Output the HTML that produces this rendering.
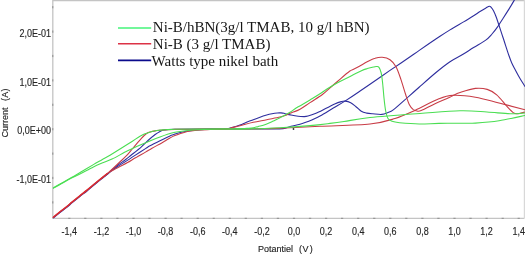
<!DOCTYPE html>
<html><head><meta charset="utf-8"><style>
html,body{margin:0;padding:0;background:#fff;}
body{width:525px;height:254px;overflow:hidden;}
svg{display:block;}
</style></head><body>
<svg width="525" height="254" viewBox="0 0 525 254">
<rect width="525" height="254" fill="#fff"/>
<path d="M524.3,0.5H52.8V218.3H524.3" fill="none" stroke="#c4c4c4" stroke-width="1.3"/>
<path d="M524.4,0V218.5" fill="none" stroke="#d8d8d8" stroke-width="1.2"/>
<path d="M68.2,218.3H70.4 M84.2,218.3H86.4 M100.3,218.3H102.5 M116.3,218.3H118.5 M132.4,218.3H134.6 M148.4,218.3H150.6 M164.5,218.3H166.7 M180.5,218.3H182.7 M196.6,218.3H198.8 M212.7,218.3H214.8 M228.7,218.3H230.9 M244.7,218.3H246.9 M260.8,218.3H263.0 M276.8,218.3H279.1 M292.9,218.3H295.1 M308.9,218.3H311.2 M325.0,218.3H327.2 M341.0,218.3H343.2 M357.1,218.3H359.3 M373.1,218.3H375.4 M389.2,218.3H391.4 M405.2,218.3H407.4 M421.3,218.3H423.5 M437.3,218.3H439.6 M453.4,218.3H455.6 M469.4,218.3H471.7 M485.5,218.3H487.7 M501.6,218.3H503.8 M517.6,218.3H519.8 M52.8,201.3V203.5 M52.8,176.9V179.1 M52.8,152.5V154.7 M52.8,128.1V130.3 M52.8,103.7V105.9 M52.8,79.3V81.5 M52.8,54.9V57.1 M52.8,30.5V32.7 M52.8,6.1V8.3" stroke="#8c8c8c" stroke-width="1" fill="none"/>
<path d="M107.3,174.3C108.2,173.5 111.0,171.1 113.0,169.6C115.0,168.1 116.8,167.0 119.0,165.6C121.2,164.2 123.5,162.8 126.2,161.1C128.9,159.4 131.8,157.5 135.0,155.4C138.2,153.3 143.0,150.2 145.5,148.6C148.0,147.0 147.6,147.1 150.0,145.8C152.4,144.5 156.7,142.4 160.0,140.8C163.3,139.2 167.5,137.1 170.0,136.0C172.5,134.9 172.5,134.8 175.0,134.0C177.5,133.2 180.8,132.2 185.0,131.5C189.2,130.8 195.0,130.0 200.0,129.6C205.0,129.2 210.8,129.2 215.0,129.1C219.2,129.0 222.5,129.2 225.3,128.9C228.1,128.6 229.6,128.2 232.0,127.5C234.4,126.8 237.7,125.8 240.0,125.0C242.3,124.2 243.8,123.4 246.0,122.5C248.2,121.6 251.0,120.6 253.3,119.7C255.6,118.8 257.8,118.0 260.0,117.2C262.2,116.4 264.7,115.6 266.7,115.0C268.7,114.4 270.2,114.1 272.0,113.8C273.8,113.5 275.8,113.2 277.3,113.0C278.8,112.8 279.9,112.9 281.0,112.9C282.1,113.0 283.1,113.1 284.0,113.3C284.9,113.5 285.5,113.8 286.7,114.1C287.9,114.4 289.1,114.6 291.0,115.0C292.9,115.4 296.0,116.0 298.2,116.3C300.4,116.6 302.4,116.6 304.0,116.6C305.6,116.5 306.0,116.5 308.0,116.0C310.0,115.5 312.9,114.6 316.0,113.3C319.1,112.0 323.6,109.5 326.7,108.0C329.8,106.5 332.3,105.1 334.7,104.0C337.1,102.9 339.5,102.1 341.3,101.6C343.1,101.1 343.7,100.9 345.3,101.1C346.9,101.3 348.9,101.8 350.7,102.7C352.5,103.6 354.2,105.3 356.0,106.7C357.8,108.1 359.5,110.2 361.3,111.3C363.1,112.4 364.8,112.7 366.7,113.1C368.6,113.5 370.2,113.6 372.7,113.8C375.2,114.0 379.2,114.6 381.8,114.4C384.4,114.2 386.0,113.3 388.0,112.5C390.0,111.7 390.0,112.4 393.6,109.6C397.2,106.8 404.8,99.8 409.4,95.8C414.0,91.8 416.8,89.3 421.2,85.4C425.6,81.5 431.2,76.5 436.0,72.5C440.8,68.5 445.5,64.7 450.0,61.7C454.5,58.7 459.1,56.7 463.0,54.3C466.9,51.9 469.9,49.8 473.6,47.5C477.3,45.2 482.3,42.6 485.4,40.4C488.5,38.1 490.0,36.2 492.0,34.0C494.0,31.8 495.4,30.0 497.2,27.4C499.0,24.8 500.9,21.8 503.0,18.5C505.1,15.2 508.1,10.5 510.0,7.4C511.9,4.3 513.4,1.7 514.4,0.0C515.4,-1.7 515.7,-2.5 516.0,-3.0" fill="none" stroke="#2e2e9e" stroke-width="1.1" stroke-linejoin="round" stroke-linecap="round"/>
<path d="M53.6,217.8C54.5,217.0 57.3,214.7 59.3,213.1C61.3,211.5 63.6,209.8 65.8,208.1C68.0,206.4 70.0,204.6 72.3,202.7C74.6,200.8 77.3,198.6 79.8,196.6C82.3,194.6 84.7,192.8 87.3,190.7C89.9,188.6 93.0,185.9 95.3,184.0C97.6,182.1 99.3,180.7 101.3,179.1C103.3,177.5 105.3,176.0 107.3,174.3C109.2,172.6 111.0,170.7 113.0,169.0C115.0,167.3 116.8,165.9 119.0,164.3C121.2,162.7 124.0,160.8 126.0,159.3C128.0,157.8 128.4,157.4 131.0,155.3C133.6,153.2 138.6,149.3 141.4,146.8C144.2,144.3 145.7,142.6 148.0,140.5C150.3,138.4 153.2,136.0 155.2,134.5C157.2,133.0 158.5,132.2 160.0,131.4C161.5,130.7 161.5,130.3 164.0,130.0C166.5,129.7 169.0,129.5 175.0,129.3C181.0,129.2 189.2,129.2 200.0,129.1C210.8,129.0 228.3,129.0 240.0,129.0C251.7,129.0 262.8,129.1 270.0,129.0C277.2,128.9 279.5,129.0 283.0,128.6C286.5,128.2 288.2,127.0 291.0,126.3C293.8,125.6 297.2,125.0 300.0,124.2C302.8,123.4 304.7,123.0 308.0,121.6C311.3,120.2 315.8,118.3 320.0,116.0C324.2,113.7 329.1,110.5 333.3,108.0C337.5,105.5 341.1,103.6 345.3,100.9C349.5,98.2 354.6,94.8 358.7,92.0C362.8,89.2 364.8,87.9 370.0,84.3C375.2,80.7 384.1,74.5 390.0,70.4C395.9,66.4 400.4,63.4 405.4,60.0C410.4,56.6 414.2,53.9 420.0,49.9C425.8,45.9 435.0,39.6 440.0,36.3C445.0,33.0 446.1,32.3 450.0,29.9C453.9,27.5 459.7,24.2 463.6,21.9C467.5,19.5 470.9,17.5 473.6,15.8C476.3,14.1 477.9,12.8 480.0,11.5C482.1,10.2 484.4,8.8 486.0,7.9C487.6,7.0 488.6,6.3 489.4,6.2C490.2,6.1 490.3,6.4 491.0,7.2C491.7,8.0 492.7,9.2 493.5,10.8C494.3,12.4 495.2,14.4 496.0,16.5C496.8,18.6 497.2,20.0 498.4,23.5C499.6,27.0 501.2,32.1 503.0,37.5C504.8,42.9 507.5,51.5 509.0,55.8C510.5,60.1 510.9,61.0 512.0,63.5C513.1,66.0 514.3,68.0 515.6,70.5C516.9,73.0 518.4,75.8 520.0,78.5C521.6,81.2 524.2,85.2 525.0,86.5" fill="none" stroke="#2e2e9e" stroke-width="1.1" stroke-linejoin="round" stroke-linecap="round"/>
<path d="M107.0,173.8C108.0,173.2 111.0,171.3 113.0,170.2C115.0,169.1 116.6,168.3 119.0,167.0C121.4,165.7 124.8,164.2 127.6,162.6C130.4,161.0 133.0,159.3 136.0,157.6C139.0,155.8 142.8,153.7 145.5,152.1C148.2,150.5 149.6,149.6 152.0,148.2C154.4,146.8 157.8,145.1 160.0,143.9C162.2,142.7 163.3,142.0 165.0,141.0C166.7,140.0 168.3,138.9 170.0,138.0C171.7,137.1 171.7,136.8 175.0,135.6C178.3,134.4 184.2,132.0 190.0,131.0C195.8,130.0 203.3,129.8 210.0,129.5C216.7,129.2 221.7,129.2 230.0,129.1C238.3,129.0 251.7,129.0 260.0,128.8C268.3,128.7 270.0,128.6 280.0,128.2C290.0,127.8 305.0,127.0 320.0,126.3C335.0,125.6 357.5,125.3 370.0,124.0C382.5,122.7 387.4,120.8 395.0,118.5C402.6,116.2 408.0,113.5 415.3,110.2C422.6,106.9 432.6,101.3 438.9,98.8C445.2,96.3 446.9,95.6 453.0,95.3C459.1,95.0 467.7,95.9 475.4,97.2C483.1,98.5 490.7,100.9 499.0,103.0C507.3,105.1 520.7,108.6 525.0,109.7" fill="none" stroke="#c83c46" stroke-width="1.1" stroke-linejoin="round" stroke-linecap="round"/>
<path d="M53.3,217.3C54.2,216.5 57.0,214.2 59.0,212.6C61.0,211.0 63.3,209.3 65.5,207.6C67.7,205.9 69.7,204.1 72.0,202.2C74.3,200.3 77.0,198.1 79.5,196.1C82.0,194.1 84.4,192.3 87.0,190.2C89.6,188.1 92.7,185.4 95.0,183.5C97.3,181.6 99.0,180.2 101.0,178.6C103.0,177.0 105.0,175.5 107.0,173.8C109.0,172.1 111.0,170.4 113.0,168.5C115.0,166.6 117.1,164.6 119.3,162.5C121.5,160.4 123.7,158.6 126.0,156.2C128.3,153.8 130.5,151.0 133.1,148.0C135.7,145.0 139.1,140.8 141.4,138.3C143.7,135.9 145.3,134.4 146.9,133.3C148.5,132.2 149.6,132.2 151.0,131.8C152.4,131.4 153.7,131.2 155.2,130.9C156.7,130.6 158.4,130.4 160.0,130.2C161.6,130.0 162.5,130.0 165.0,129.9C167.5,129.8 169.2,129.5 175.0,129.4C180.8,129.3 191.6,129.2 200.0,129.1C208.4,129.0 220.0,129.2 225.3,129.0C230.6,128.8 229.6,128.2 232.0,127.6C234.4,127.0 236.4,126.6 240.0,125.7C243.6,124.8 248.9,123.3 253.3,122.3C257.8,121.3 262.2,120.6 266.7,119.7C271.1,118.8 276.9,117.7 280.0,117.0C283.1,116.3 283.4,116.2 285.0,115.6C286.6,115.0 288.0,114.2 289.5,113.6C291.0,113.0 292.2,112.5 294.0,111.8C295.8,111.1 297.3,110.7 300.0,109.2C302.7,107.7 306.3,105.0 310.0,102.6C313.7,100.1 318.9,97.1 322.4,94.5C325.9,91.9 328.0,89.6 331.0,87.0C334.0,84.4 337.4,81.5 340.5,78.8C343.6,76.1 347.8,72.5 349.9,71.0C352.0,69.5 351.5,70.3 353.1,69.5C354.7,68.7 357.0,67.5 359.4,66.2C361.8,64.9 364.6,63.1 367.2,61.8C369.8,60.5 372.6,59.0 375.1,58.3C377.6,57.5 379.7,57.1 382.2,57.3C384.7,57.5 387.7,58.1 390.0,59.7C392.3,61.3 394.2,63.4 396.0,66.7C397.8,70.0 399.3,74.7 400.9,79.4C402.5,84.1 404.4,90.8 405.8,95.0C407.2,99.2 408.1,102.3 409.4,104.7C410.6,107.1 412.0,108.5 413.3,109.6C414.6,110.6 415.7,110.8 417.0,111.0C418.3,111.2 418.2,111.8 421.2,110.6C424.2,109.4 430.4,105.8 435.0,103.7C439.6,101.6 445.7,99.2 448.7,97.8C451.7,96.4 451.1,96.4 453.0,95.5C454.9,94.6 456.3,93.7 460.0,92.5C463.7,91.3 470.9,88.9 475.4,88.4C479.9,87.9 483.6,88.3 487.2,89.4C490.8,90.5 493.5,92.1 496.7,94.8C499.9,97.5 503.4,102.4 506.1,105.4C508.9,108.4 511.2,111.2 513.2,112.6C515.2,114.0 515.9,113.8 517.9,113.7C519.9,113.6 523.8,112.3 525.0,112.0" fill="none" stroke="#c83c46" stroke-width="1.1" stroke-linejoin="round" stroke-linecap="round"/>
<path d="M53.4,188.2C54.8,187.4 59.0,185.1 62.0,183.3C65.0,181.6 68.3,179.7 71.5,178.0C74.7,176.4 77.2,175.3 80.9,173.4C84.6,171.5 89.9,168.6 93.4,166.9C96.9,165.2 98.9,164.4 102.0,163.1C105.1,161.8 107.7,161.1 112.0,159.1C116.3,157.1 122.7,153.2 127.6,150.8C132.5,148.4 136.0,146.9 141.4,144.6C146.8,142.3 154.4,139.1 160.0,137.0C165.6,134.9 170.0,133.4 175.0,132.3C180.0,131.2 184.2,130.7 190.0,130.2C195.8,129.7 203.3,129.4 210.0,129.2C216.7,129.0 221.7,129.1 230.0,129.0C238.3,128.9 251.7,128.9 260.0,128.7C268.3,128.5 271.7,128.3 280.0,127.8C288.3,127.3 301.7,126.3 310.0,125.6C318.3,124.9 324.3,124.1 330.0,123.4C335.7,122.7 337.3,122.5 344.0,121.5C350.7,120.5 357.3,118.8 370.0,117.5C382.7,116.2 405.0,114.6 420.0,113.5C435.0,112.4 448.8,111.0 460.0,110.8C471.2,110.5 478.7,111.5 487.0,112.0C495.3,112.5 503.7,113.5 510.0,113.7C516.3,113.9 522.5,113.1 525.0,113.0" fill="none" stroke="#4ade52" stroke-width="1.1" stroke-linejoin="round" stroke-linecap="round"/>
<path d="M53.4,187.8C54.8,187.0 59.0,184.6 62.0,182.9C65.0,181.2 68.3,179.4 71.5,177.6C74.7,175.8 77.2,174.2 80.9,172.0C84.6,169.8 89.9,166.7 93.4,164.6C96.9,162.5 99.2,161.3 102.0,159.7C104.8,158.1 105.7,157.8 110.0,155.2C114.3,152.6 122.4,147.6 127.6,144.3C132.8,141.0 138.2,137.4 141.4,135.6C144.6,133.8 144.6,134.0 146.9,133.2C149.2,132.4 153.0,131.3 155.2,130.8C157.4,130.3 158.4,130.3 160.0,130.1C161.6,129.9 162.5,129.9 165.0,129.8C167.5,129.7 169.2,129.4 175.0,129.3C180.8,129.2 189.9,129.1 200.0,129.0C210.1,128.9 228.5,129.0 235.5,129.0C242.5,129.0 240.1,128.9 242.0,128.8C243.9,128.7 245.1,128.6 247.0,128.4C248.9,128.2 251.5,128.0 253.3,127.7C255.1,127.4 256.2,127.0 258.0,126.6C259.8,126.1 262.2,125.6 264.0,125.0C265.8,124.4 267.4,123.7 269.0,123.0C270.6,122.3 272.0,121.6 273.3,121.0C274.6,120.4 275.7,119.9 277.0,119.2C278.3,118.5 279.8,117.8 281.3,117.0C282.8,116.2 284.6,115.3 286.0,114.5C287.4,113.7 288.0,113.6 290.0,112.3C292.0,111.0 294.9,108.8 298.2,106.8C301.5,104.8 306.4,102.2 310.0,100.0C313.6,97.8 316.8,95.9 320.0,93.8C323.2,91.7 326.0,89.6 329.4,87.5C332.8,85.4 336.8,83.2 340.5,81.2C344.2,79.2 348.1,77.4 351.5,75.7C354.9,74.0 358.3,72.1 360.9,70.9C363.5,69.7 365.1,69.2 367.2,68.6C369.3,67.9 371.9,67.3 373.5,67.0C375.1,66.7 375.8,66.4 376.7,66.5C377.6,66.6 378.2,66.3 379.0,67.4C379.8,68.5 380.6,70.6 381.2,73.0C381.8,75.4 382.0,77.8 382.5,82.0C383.0,86.2 383.5,93.2 384.0,98.0C384.5,102.8 385.0,107.6 385.7,111.0C386.4,114.4 386.9,116.8 388.0,118.5C389.1,120.2 390.1,120.6 392.0,121.3C393.9,122.0 395.0,122.3 399.5,122.8C404.0,123.2 412.6,123.9 419.2,124.0C425.8,124.1 432.1,123.5 438.9,123.4C445.7,123.3 453.9,123.2 460.0,123.2C466.1,123.2 468.9,123.5 475.4,123.1C481.9,122.7 490.7,122.1 499.0,120.8C507.3,119.5 520.7,116.4 525.0,115.5" fill="none" stroke="#4ade52" stroke-width="1.1" stroke-linejoin="round" stroke-linecap="round"/>
<path d="M53.3,217.3C54.2,216.5 57.0,214.2 59.0,212.6C61.0,211.0 63.3,209.3 65.5,207.6C67.7,205.9 69.7,204.1 72.0,202.2C74.3,200.3 77.0,198.1 79.5,196.1C82.0,194.1 84.4,192.3 87.0,190.2C89.6,188.1 92.7,185.4 95.0,183.5C97.3,181.6 99.0,180.2 101.0,178.6C103.0,177.0 106.0,174.6 107.0,173.8" fill="none" stroke="#d82a30" stroke-width="1.5" stroke-linecap="round"/>
<circle cx="293.5" cy="129" r="0.9" fill="#303030"/>
<path d="M118,28.0H151.2" stroke="#44f47a" stroke-width="1.7"/>
<path d="M118,43.8H151.2" stroke="#dc3246" stroke-width="1.6"/>
<path d="M118,60.4H151.2" stroke="#0a0a8c" stroke-width="1.6"/>
<g style="will-change:transform">
<text transform="translate(69.30,235.00) scale(0.9,1)" text-anchor="middle" font-family="Liberation Sans, sans-serif" font-size="10" fill="#262626" stroke="#262626" stroke-width="0.15">-1,4</text>
<text transform="translate(101.40,235.00) scale(0.9,1)" text-anchor="middle" font-family="Liberation Sans, sans-serif" font-size="10" fill="#262626" stroke="#262626" stroke-width="0.15">-1,2</text>
<text transform="translate(133.50,235.00) scale(0.9,1)" text-anchor="middle" font-family="Liberation Sans, sans-serif" font-size="10" fill="#262626" stroke="#262626" stroke-width="0.15">-1,0</text>
<text transform="translate(165.60,235.00) scale(0.9,1)" text-anchor="middle" font-family="Liberation Sans, sans-serif" font-size="10" fill="#262626" stroke="#262626" stroke-width="0.15">-0,8</text>
<text transform="translate(197.70,235.00) scale(0.9,1)" text-anchor="middle" font-family="Liberation Sans, sans-serif" font-size="10" fill="#262626" stroke="#262626" stroke-width="0.15">-0,6</text>
<text transform="translate(229.80,235.00) scale(0.9,1)" text-anchor="middle" font-family="Liberation Sans, sans-serif" font-size="10" fill="#262626" stroke="#262626" stroke-width="0.15">-0,4</text>
<text transform="translate(261.90,235.00) scale(0.9,1)" text-anchor="middle" font-family="Liberation Sans, sans-serif" font-size="10" fill="#262626" stroke="#262626" stroke-width="0.15">-0,2</text>
<text transform="translate(294.00,235.00) scale(0.9,1)" text-anchor="middle" font-family="Liberation Sans, sans-serif" font-size="10" fill="#262626" stroke="#262626" stroke-width="0.15">0,0</text>
<text transform="translate(326.10,235.00) scale(0.9,1)" text-anchor="middle" font-family="Liberation Sans, sans-serif" font-size="10" fill="#262626" stroke="#262626" stroke-width="0.15">0,2</text>
<text transform="translate(358.20,235.00) scale(0.9,1)" text-anchor="middle" font-family="Liberation Sans, sans-serif" font-size="10" fill="#262626" stroke="#262626" stroke-width="0.15">0,4</text>
<text transform="translate(390.30,235.00) scale(0.9,1)" text-anchor="middle" font-family="Liberation Sans, sans-serif" font-size="10" fill="#262626" stroke="#262626" stroke-width="0.15">0,6</text>
<text transform="translate(422.40,235.00) scale(0.9,1)" text-anchor="middle" font-family="Liberation Sans, sans-serif" font-size="10" fill="#262626" stroke="#262626" stroke-width="0.15">0,8</text>
<text transform="translate(454.50,235.00) scale(0.9,1)" text-anchor="middle" font-family="Liberation Sans, sans-serif" font-size="10" fill="#262626" stroke="#262626" stroke-width="0.15">1,0</text>
<text transform="translate(486.60,235.00) scale(0.9,1)" text-anchor="middle" font-family="Liberation Sans, sans-serif" font-size="10" fill="#262626" stroke="#262626" stroke-width="0.15">1,2</text>
<text transform="translate(518.70,235.00) scale(0.9,1)" text-anchor="middle" font-family="Liberation Sans, sans-serif" font-size="10" fill="#262626" stroke="#262626" stroke-width="0.15">1,4</text>
<text transform="translate(50.90,36.60) scale(0.9,1)" text-anchor="end" font-family="Liberation Sans, sans-serif" font-size="10" fill="#262626" stroke="#262626" stroke-width="0.15">2,0E-01</text>
<text transform="translate(50.90,85.80) scale(0.9,1)" text-anchor="end" font-family="Liberation Sans, sans-serif" font-size="10" fill="#262626" stroke="#262626" stroke-width="0.15">1,0E-01</text>
<text transform="translate(50.90,134.40) scale(0.9,1)" text-anchor="end" font-family="Liberation Sans, sans-serif" font-size="10" fill="#262626" stroke="#262626" stroke-width="0.15">0,0E+00</text>
<text transform="translate(50.90,183.40) scale(0.9,1)" text-anchor="end" font-family="Liberation Sans, sans-serif" font-size="10" fill="#262626" stroke="#262626" stroke-width="0.15">-1,0E-01</text>
<text x="258" y="251.7" font-family="Liberation Sans, sans-serif" font-size="9" fill="#262626" stroke="#262626" stroke-width="0.15">Potantiel</text>
<text x="298.9" y="251.7" font-family="Liberation Sans, sans-serif" font-size="9" fill="#262626" stroke="#262626" stroke-width="0.15">(</text>
<text x="302.4" y="251.7" font-family="Liberation Sans, sans-serif" font-size="9" fill="#262626" stroke="#262626" stroke-width="0.15">V</text>
<text x="309.7" y="251.7" font-family="Liberation Sans, sans-serif" font-size="9" fill="#262626" stroke="#262626" stroke-width="0.15">)</text>
<g transform="translate(7.5,137.4) rotate(-90)"><text transform="translate(0.00,0) scale(1.0,0.97)" font-family="Liberation Sans, sans-serif" font-size="9" fill="#262626" stroke="#262626" stroke-width="0.15">Current</text><text transform="translate(36.50,0) scale(1.0,0.97)" font-family="Liberation Sans, sans-serif" font-size="9" fill="#262626" stroke="#262626" stroke-width="0.15">(</text><text transform="translate(39.60,0) scale(1.0,0.97)" font-family="Liberation Sans, sans-serif" font-size="9" fill="#262626" stroke="#262626" stroke-width="0.15">A</text><text transform="translate(46.00,0) scale(1.0,0.97)" font-family="Liberation Sans, sans-serif" font-size="9" fill="#262626" stroke="#262626" stroke-width="0.15">)</text></g>
<text x="152.8" y="31.8" font-family="Liberation Serif, serif" font-size="15" fill="#161616">Ni-B/hBN(3g/l TMAB, 10 g/l hBN)</text>
<text x="152.8" y="48.7" font-family="Liberation Serif, serif" font-size="15" fill="#161616">Ni-B (3 g/l TMAB)</text>
<text x="151.6" y="65.5" font-family="Liberation Serif, serif" font-size="15" fill="#161616">Watts type nikel bath</text>
</g>
</svg>
</body></html>
